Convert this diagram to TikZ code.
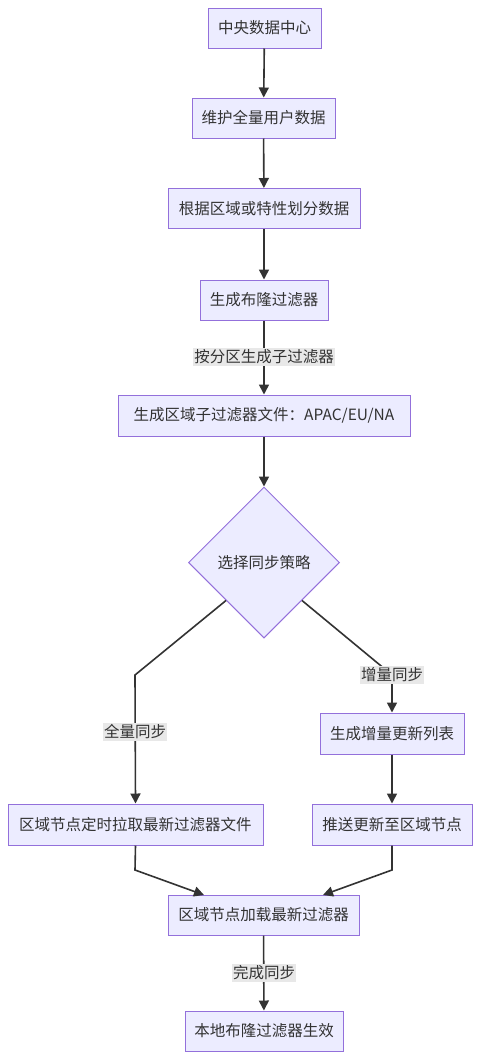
\documentclass[tikz,border=0pt]{standalone}
\usepackage{fontspec}
\setmainfont{Noto Sans CJK SC}
\usetikzlibrary{arrows.meta,shapes.geometric}
\definecolor{nodefill}{HTML}{ECECFF}
\definecolor{nodeline}{HTML}{9370DB}
\definecolor{edgecol}{HTML}{333333}
\definecolor{lblbg}{HTML}{E8E8E8}
\tikzset{
  box/.style={draw=nodeline,fill=nodefill,line width=1pt,minimum height=40pt,inner sep=0pt,text=edgecol,font=\fontsize{15.5}{18}\selectfont},
  decision/.style={diamond,draw=nodeline,fill=nodefill,line width=1pt,minimum width=151pt,minimum height=151pt,inner sep=0pt,text=edgecol,font=\fontsize{15.5}{18}\selectfont},
  lbl/.style={fill=lblbg,inner xsep=1pt,inner ysep=2pt,text=edgecol,font=\fontsize{15.5}{18}\selectfont},
  conn/.style={draw=edgecol,line width=1.6pt,-{Triangle[length=10pt,width=10pt]}},
}
\begin{document}
\begin{tikzpicture}[x=1pt,y=-1pt]
\useasboundingbox[fill=white] (0,0) rectangle (480,1060);
\node[box,minimum width=113pt] (a) at (264.5,28) {中央数据中心};
\node[box,minimum width=143pt] (b) at (263.5,118) {维护全量用户数据};
\node[box,minimum width=192pt] (c) at (264,208.5) {根据区域或特性划分数据};
\node[box,minimum width=128pt] (d) at (264,300) {生成布隆过滤器};
\node[box,minimum width=292pt,minimum height=41pt] (e) at (264,415.5) {生成区域子过滤器文件：APAC/EU/NA};
\node[decision] (f) at (264,562.5) {选择同步策略};
\node[box,minimum width=144pt,minimum height=41pt] (g) at (392,733.5) {生成增量更新列表};
\node[box,minimum width=255pt,minimum height=41pt] (h) at (135.5,824.5) {区域节点定时拉取最新过滤器文件};
\node[box,minimum width=160pt,minimum height=41pt] (i) at (392,824.5) {推送更新至区域节点};
\node[box,minimum width=191pt] (j) at (263.5,915) {区域节点加载最新过滤器};
\node[box,minimum width=158pt] (k) at (264,1031) {本地布隆过滤器生效};

\coordinate (fl) at (135,675);
\coordinate (fr) at (392,675);
\coordinate (hl) at (135,870);
\coordinate (ir) at (392,870);
\coordinate (jl) at (204,895);
\coordinate (jr) at (323,895);

\draw[conn] (a) -- (b);
\draw[conn] (b) -- (c);
\draw[conn] (c) -- (d);
\draw[conn] (d) -- (e);
\draw[conn] (e) -- (f);
\draw[conn] (f.south west) -- (fl) -- (h.north);
\draw[conn] (f.south east) -- (fr) -- (g.north);
\draw[conn] (g) -- (i);
\draw[conn] (h.south) -- (hl) -- (jl);
\draw[conn] (i.south) -- (ir) -- (jr);
\draw[conn] (j) -- (k);

\node[lbl] (l1) at (264,357) {按分区生成子过滤器};
\node[lbl] (l2) at (135,732) {全量同步};
\node[lbl] (l3) at (392,675) {增量同步};
\node[lbl] (l4) at (264,973) {完成同步};
\end{tikzpicture}
\end{document}
